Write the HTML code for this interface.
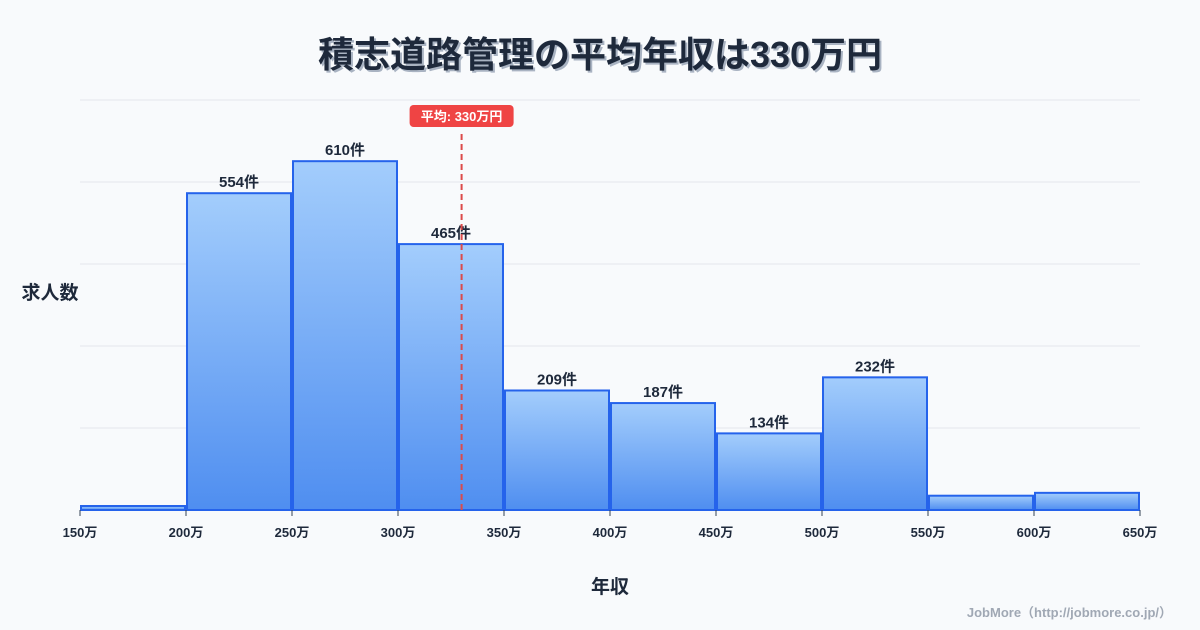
<!DOCTYPE html>
<html><head><meta charset="utf-8"><style>
body{margin:0;background:#f8fafc;}
svg{display:block;font-family:"Liberation Sans","Noto Sans CJK JP",sans-serif;}
</style></head><body>
<svg width="1200" height="630" viewBox="0 0 1200 630">
<defs><linearGradient id="g" x1="0" y1="0" x2="0" y2="1"><stop offset="0" stop-color="#a3cdfc"/><stop offset="1" stop-color="#4f8ef0"/></linearGradient></defs>
<text x="602" y="69" text-anchor="middle" font-size="36" font-weight="bold" fill="#a9b3c2">積志道路管理の平均年収は330万円</text>
<text x="600" y="67" text-anchor="middle" font-size="36" font-weight="bold" fill="#1e293b">積志道路管理の平均年収は330万円</text>
<g id="grid"></g><g id="bars"></g><g id="xticks"></g>
<text x="50" y="299" text-anchor="middle" font-size="19" font-weight="bold" fill="#1e293b">求人数</text>
<text x="610" y="593" text-anchor="middle" font-size="19" font-weight="bold" fill="#1e293b">年収</text>
<text x="1172" y="617" text-anchor="end" font-size="13" font-weight="bold" fill="#a0a8b4">JobMore（http://jobmore.co.jp/）</text>
<g id="avg"></g>
</svg>
<script>
const binStarts=[150,200,250,300,350,400,450,500,550,600];
const counts=[7,554,610,465,209,187,134,232,25,30];
const showLabel=[false,true,true,true,true,true,true,true,false,false];
const xTicks=[150,200,250,300,350,400,450,500,550,600,650];
const avgValue=330;
const NS="http://www.w3.org/2000/svg";
const X0=80,X1=1140,XMIN=150,XMAX=650,BASE=510,YTOP=100,YMAX=717;
const xs=v=>X0+(v-XMIN)*(X1-X0)/(XMAX-XMIN);
const ys=v=>BASE-v*(BASE-YTOP)/YMAX;
function mk(t,a,p){const e=document.createElementNS(NS,t);for(const k in a)e.setAttribute(k,a[k]);p.appendChild(e);return e;}
const grid=document.getElementById('grid');
for(let i=0;i<=5;i++){const y=YTOP+i*(BASE-YTOP)/5;const l=mk('line',{x1:X0,x2:X1,y1:y,y2:y,stroke:'#e5e7eb','stroke-width':1},grid);

}
const bars=document.getElementById('bars');
binStarts.forEach((b,i)=>{const x=xs(b)+1,w=xs(b+50)-xs(b)-2,y=ys(counts[i]);
const r=mk('rect',{x:x,y:y,width:w,height:BASE-y,fill:'url(#g)',stroke:'#2563eb','stroke-width':2},bars);


if(showLabel[i]){const t=mk('text',{x:x+w/2,y:y-6,'text-anchor':'middle','font-size':15,'font-weight':'bold',fill:'#1e293b'},bars);t.textContent=counts[i]+'件';

}});
const xt=document.getElementById('xticks');
xTicks.forEach(v=>{const x=xs(v);const l=mk('line',{x1:x,x2:x,y1:BASE,y2:BASE+6,stroke:'#334155','stroke-width':1},xt);


const t=mk('text',{x:x,y:BASE+27,'text-anchor':'middle','font-size':13,'font-weight':'bold',fill:'#1e293b'},xt);t.textContent=v+'万';

});
const av=document.getElementById('avg');const ax=xs(avgValue);
const al=mk('line',{x1:ax,x2:ax,y1:134,y2:BASE,stroke:'#dc4a4a','stroke-width':2,'stroke-dasharray':'6,4'},av);


const ab=mk('rect',{x:ax-52,y:105,width:104,height:22,rx:4,fill:'#ef4444'},av);


const at=mk('text',{x:ax,y:121,'text-anchor':'middle','font-size':13,'font-weight':'bold',fill:'#fff'},av);at.textContent='平均: '+avgValue+'万円';


</script>
</body></html>
